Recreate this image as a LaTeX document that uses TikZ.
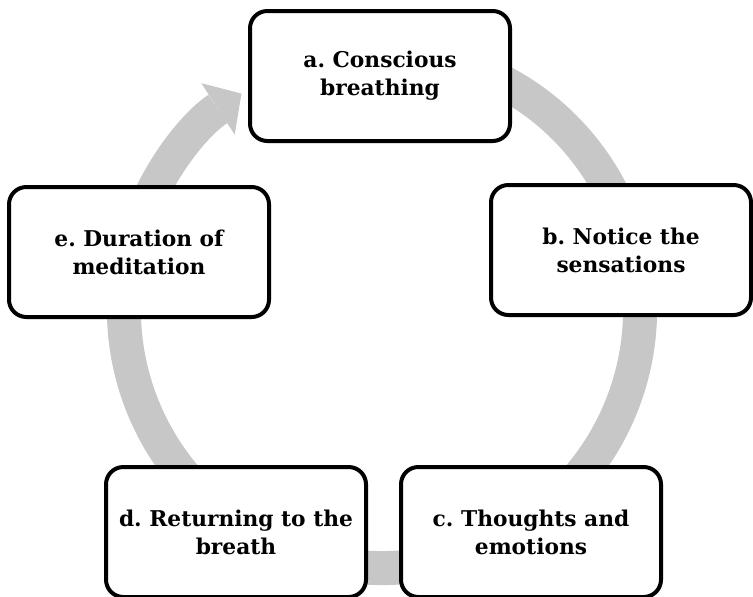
\documentclass[tikz,border=0pt]{standalone}
\usepackage{fontspec}
\setmainfont{DejaVu Serif}
\frenchspacing
\usetikzlibrary{arrows.meta}
\definecolor{ringgray}{gray}{0.78}
\tikzset{
  stepbox/.style={draw=black, line width=3pt, fill=white, rounded corners=13pt,
                  minimum width=195pt, minimum height=97.5pt, align=center,
                  font=\bfseries\fontsize{16.3}{21}\selectfont},
  ring/.style={draw=ringgray, line width=25.5pt,
               -{Triangle[length=21pt,width=46pt,line width=0pt]}}}

\begin{document}
\begin{tikzpicture}[x=0.75pt,y=-0.75pt]
  \useasboundingbox (0,0) rectangle (753,596);
  \coordinate (ctr) at (382,310);
  \draw[ring] ([shift={(-70:258)}]ctr) arc[start angle=-70, end angle=237, radius=258];
  \node[stepbox] (breath) at (380,76) {a. Conscious\\breathing};
  \node[stepbox] (sense) at (621,250) {b. Notice the\\sensations};
  \node[stepbox] (thought) at (531,532) {c. Thoughts and\\emotions};
  \node[stepbox] (return) at (236,532) {d. Returning to the\\breath};
  \node[stepbox] (length) at (139,252) {e. Duration of\\meditation};
\end{tikzpicture}
\end{document}
